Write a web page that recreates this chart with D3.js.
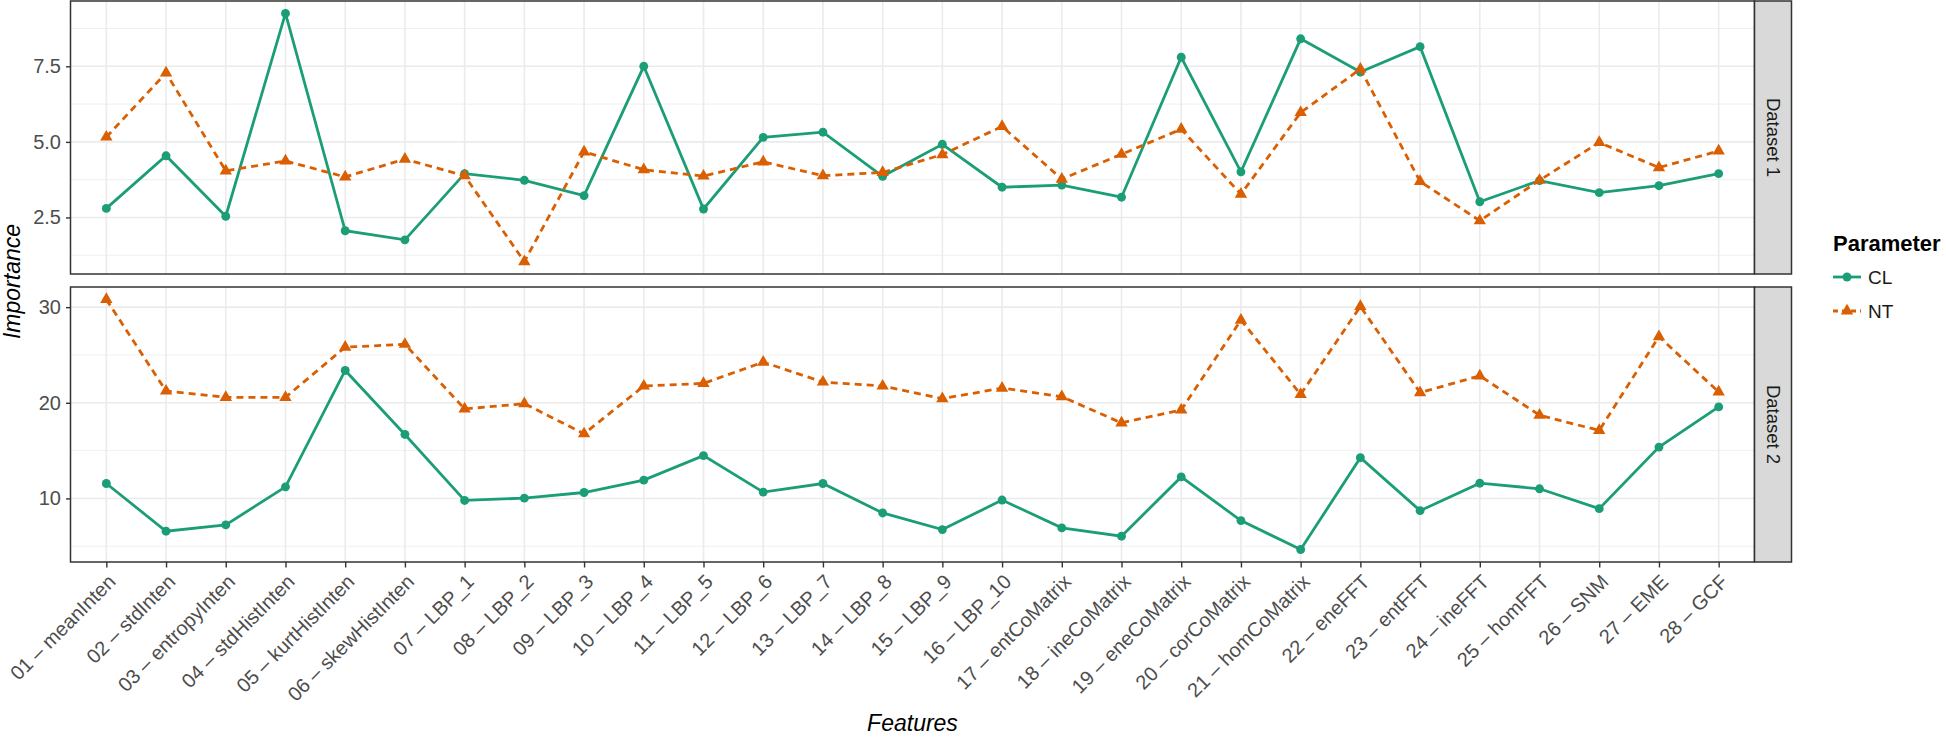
<!DOCTYPE html>
<html>
<meta charset="utf-8">
<style>
body { margin: 0; background: #fff; }
text { font-family: "Liberation Sans", Arial, Helvetica, sans-serif; }
.grid line { stroke: #EBEBEB; }
.axis path { display: none; }
.axis line { stroke: #333333; stroke-width: 1.4; }
.axis text { fill: #4D4D4D; font-size: 20px; }
</style>
<head>
<script src="https://cdn.jsdelivr.net/npm/d3@7"></script>
</head>
<body>
<script>
// features on the x axis
var features = ["01 – meanInten", "02 – stdInten", "03 – entropyInten", "04 – stdHistInten",
  "05 – kurtHistInten", "06 – skewHistInten", "07 – LBP_1", "08 – LBP_2", "09 – LBP_3",
  "10 – LBP_4", "11 – LBP_5", "12 – LBP_6", "13 – LBP_7", "14 – LBP_8", "15 – LBP_9",
  "16 – LBP_10", "17 – entCoMatrix", "18 – ineCoMatrix", "19 – eneCoMatrix", "20 – corCoMatrix",
  "21 – homCoMatrix", "22 – eneFFT", "23 – entFFT", "24 – ineFFT", "25 – homFFT",
  "26 – SNM", "27 – EME", "28 – GCF"];

var datasets = ["Dataset 1", "Dataset 2"];
var parameters = ["CL", "NT"];

// importance values
var clDataset1 = [2.80, 4.54, 2.54, 9.25, 2.06, 1.76, 3.95, 3.73, 3.22, 7.50, 2.78, 5.15, 5.32, 3.86,
  4.92, 3.50, 3.57, 3.17, 7.80, 4.01, 8.41, 7.31, 8.15, 3.02, 3.72, 3.32, 3.55, 3.95];
var ntDataset1 = [5.16, 7.28, 4.04, 4.37, 3.84, 4.43, 3.88, 1.04, 4.67, 4.08, 3.87, 4.34, 3.88, 3.99,
  4.58, 5.51, 3.77, 4.59, 5.42, 3.27, 5.97, 7.41, 3.69, 2.39, 3.73, 4.98, 4.15, 4.70];
var clDataset2 = [11.56, 6.57, 7.23, 11.21, 23.38, 16.69, 9.79, 10.03, 10.62, 11.91, 14.47, 10.66, 11.56, 8.48,
  6.74, 9.83, 6.92, 6.05, 12.25, 7.68, 4.66, 14.26, 8.72, 11.59, 11.01, 8.93, 15.37, 19.57];
var ntDataset2 = [30.80, 21.23, 20.57, 20.57, 25.81, 26.12, 19.36, 19.91, 16.76, 21.75, 22.03, 24.25, 22.17, 21.75,
  20.43, 21.54, 20.64, 17.90, 19.25, 28.65, 20.88, 30.07, 21.06, 22.82, 18.70, 17.11, 26.92, 21.13];

// tick values per panel
var majorTicks1 = [2.5, 5.0, 7.5];
var minorTicks1 = [1.25, 3.75, 6.25, 8.75];
var majorTicks2 = [10, 20, 30];
var minorTicks2 = [5, 15, 25];

var width = 1946, height = 739;
var left = 70.5, right = 1754.5, stripW = 37;
var panelBox = [{top: 1, bottom: 274}, {top: 287, bottom: 562}];

var color = d3.scaleOrdinal().domain(parameters).range(["#1B9E77", "#D95F02"]);
var dash = {CL: null, NT: "7,5"};

var panelData = [
  {name: datasets[0], CL: clDataset1, NT: ntDataset1, major: majorTicks1, minor: minorTicks1},
  {name: datasets[1], CL: clDataset2, NT: ntDataset2, major: majorTicks2, minor: minorTicks2}
];

var x = d3.scalePoint()
    .domain(features)
    .range([left, right])
    .padding(0.6);

var svg = d3.select("body").append("svg")
    .attr("width", width)
    .attr("height", height);

var circle = d3.symbol().type(d3.symbolCircle).size(62);
var triangle = d3.symbol().type(d3.symbolTriangle).size(66);

panelData.forEach(function(p, i) {
  var box = panelBox[i];
  var all = p.CL.concat(p.NT);
  var ext = d3.extent(all);
  var pad = (ext[1] - ext[0]) * 0.05;
  var y = d3.scaleLinear()
      .domain([ext[0] - pad, ext[1] + pad])
      .range([box.bottom, box.top]);

  var g = svg.append("g");

  // minor grid
  g.append("g").attr("class", "grid")
    .selectAll("line").data(p.minor).enter().append("line")
      .attr("x1", left).attr("x2", right)
      .attr("y1", function(d) { return y(d); })
      .attr("y2", function(d) { return y(d); })
      .attr("stroke-width", 0.8);

  // major grid
  g.append("g").attr("class", "grid")
    .selectAll("line").data(p.major).enter().append("line")
      .attr("x1", left).attr("x2", right)
      .attr("y1", function(d) { return y(d); })
      .attr("y2", function(d) { return y(d); })
      .attr("stroke-width", 1.6);

  g.append("g").attr("class", "grid")
    .selectAll("line").data(features).enter().append("line")
      .attr("x1", function(d) { return x(d); })
      .attr("x2", function(d) { return x(d); })
      .attr("y1", box.top).attr("y2", box.bottom)
      .attr("stroke-width", 1.6);

  // lines + points
  parameters.forEach(function(k) {
    var line = d3.line()
        .x(function(d, j) { return x(features[j]); })
        .y(function(d) { return y(d); });

    g.append("path")
      .datum(p[k])
      .attr("d", line)
      .attr("fill", "none")
      .attr("stroke", color(k))
      .attr("stroke-width", 2.8)
      .attr("stroke-dasharray", dash[k]);

    g.selectAll(".pt" + k).data(p[k]).enter().append("path")
      .attr("class", "pt" + k)
      .attr("d", k == "CL" ? circle : triangle)
      .attr("transform", function(d, j) { return "translate(" + x(features[j]) + "," + y(d) + ")"; })
      .attr("fill", color(k));
  });

  // panel border
  g.append("rect")
    .attr("x", left).attr("y", box.top)
    .attr("width", right - left).attr("height", box.bottom - box.top)
    .attr("fill", "none").attr("stroke", "#333333").attr("stroke-width", 1.5);

  // strip
  g.append("rect")
    .attr("x", right).attr("y", box.top)
    .attr("width", stripW).attr("height", box.bottom - box.top)
    .attr("fill", "#D9D9D9").attr("stroke", "#333333").attr("stroke-width", 1.5);

  g.append("text")
    .attr("transform", "translate(" + (right + stripW / 2) + "," + ((box.top + box.bottom) / 2) + ") rotate(90)")
    .attr("text-anchor", "middle")
    .attr("dy", "0.35em")
    .style("font-size", "18.5px")
    .style("fill", "#1A1A1A")
    .text(p.name);

  // y axis
  g.append("g")
    .attr("class", "axis")
    .attr("transform", "translate(" + left + ",0)")
    .call(d3.axisLeft(y).tickValues(p.major).tickSize(4.5).tickPadding(5)
      .tickFormat(i == 0 ? d3.format(".1f") : d3.format("d")));

  // x axis on the bottom panel only
  if (i == 1) {
    var xa = g.append("g")
      .attr("class", "axis")
      .attr("transform", "translate(0," + box.bottom + ")")
      .call(d3.axisBottom(x).tickSize(5.5));

    xa.selectAll("text")
      .attr("text-anchor", "end")
      .attr("dy", null)
      .attr("y", 0)
      .attr("transform", "translate(10,21) rotate(-45)");
  }
});

// axis titles
svg.append("text")
  .attr("transform", "translate(20," + ((panelBox[0].top + panelBox[1].bottom) / 2) + ") rotate(-90)")
  .attr("text-anchor", "middle")
  .style("font-size", "23px")
  .style("font-style", "italic")
  .text("Importance");

svg.append("text")
  .attr("x", (left + right) / 2)
  .attr("y", 731)
  .attr("text-anchor", "middle")
  .style("font-size", "23px")
  .style("font-style", "italic")
  .text("Features");

// legend
var legend = svg.append("g").attr("transform", "translate(1833,0)");

legend.append("text")
  .attr("x", 0).attr("y", 251)
  .style("font-size", "22px")
  .style("font-weight", "bold")
  .text("Parameter");

parameters.forEach(function(k, j) {
  var ly = 277 + j * 34;
  legend.append("line")
    .attr("x1", 0).attr("x2", 28)
    .attr("y1", ly).attr("y2", ly)
    .attr("stroke", color(k))
    .attr("stroke-width", 2.8)
    .attr("stroke-dasharray", k == "NT" ? "5,4" : null);
  legend.append("path")
    .attr("d", k == "CL" ? circle : triangle)
    .attr("transform", "translate(14," + ly + ")")
    .attr("fill", color(k));
  legend.append("text")
    .attr("x", 35).attr("y", ly)
    .attr("dy", "0.35em")
    .style("font-size", "19px")
    .style("fill", "#1A1A1A")
    .text(k);
});
</script>
</body>
</html>
